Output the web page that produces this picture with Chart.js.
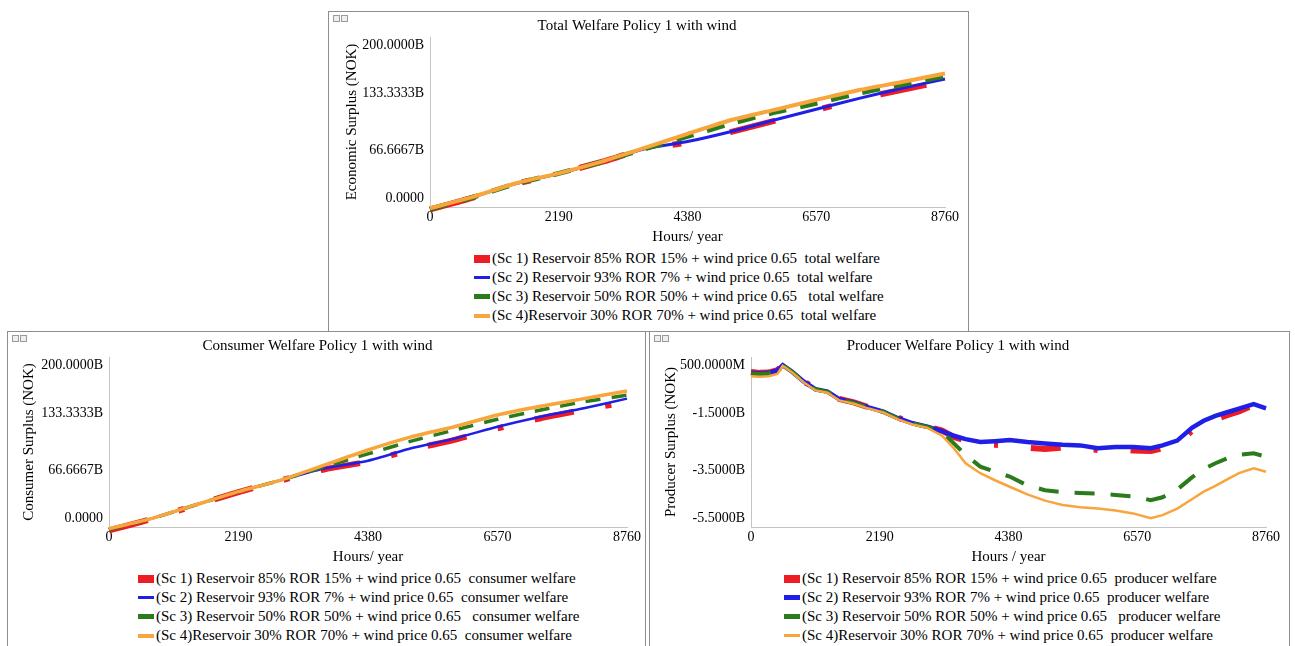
<!DOCTYPE html>
<html>
<head>
<meta charset="utf-8">
<script src="https://cdn.jsdelivr.net/npm/chart.js@4.4.1/dist/chart.umd.min.js"></script>
<style>
  body { margin: 0; background: #fff; width: 1295px; height: 646px; overflow: hidden; position: relative;
         font-family: "Liberation Serif", "Times New Roman", serif; color: #000; }
  .panel { position: absolute; border: 1px solid #8e8e8e; background: #fff; box-sizing: border-box; }
  .panel canvas { position: absolute; left: 0; top: 0; }
  .icon { position: absolute; top: 3px; width: 5px; height: 5px; border: 1px solid #9a9a9a; background: #eee; }
  .legend { position: absolute; top: 237px; font-size: 15px; line-height: 19px; white-space: pre; }
  .legend .row { height: 19px; display: flex; align-items: center; }
  .legend .key { width: 16px; margin-right: 2px; flex: none; }
</style>
</head>
<body>

<div class="panel" id="pTotal" style="left:328px; top:11px; width:641px; height:321px;">
  <span class="icon" style="left:4px"></span><span class="icon" style="left:12px"></span>
  <canvas id="cTotal"></canvas>
  <div class="legend" id="lTotal" style="left:145px"></div>
</div>

<div class="panel" id="pConsumer" style="left:7px; top:331px; width:639px; height:330px;">
  <span class="icon" style="left:4px"></span><span class="icon" style="left:12px"></span>
  <canvas id="cConsumer"></canvas>
  <div class="legend" id="lConsumer" style="left:130px"></div>
</div>

<div class="panel" id="pProducer" style="left:649px; top:331px; width:641px; height:330px;">
  <span class="icon" style="left:4px"></span><span class="icon" style="left:12px"></span>
  <canvas id="cProducer"></canvas>
  <div class="legend" id="lProducer" style="left:134px"></div>
</div>

<script>
// ---- data (billion NOK) ----
const scenarioNames = [
  "(Sc 1) Reservoir 85% ROR 15% + wind price 0.65  ",
  "(Sc 2) Reservoir 93% ROR 7% + wind price 0.65  ",
  "(Sc 3) Reservoir 50% ROR 50% + wind price 0.65   ",
  "(Sc 4)Reservoir 30% ROR 70% + wind price 0.65  "
];
const hourTicks = [0, 2190, 4380, 6570, 8760];

const hoursW = [0, 730, 1460, 2190, 2920, 3650, 4380, 5110, 5840, 6570, 7300, 8030, 8760];
const totalSc1 = [-3, 11, 27, 39.5, 53, 68, 76, 88, 101, 114, 127, 138, 148];
const totalSc2 = [-2, 12, 27.5, 39.5, 53, 68.5, 77, 88.6, 102, 115, 127.8, 139.6, 150.6];
const totalSc3 = [-2.5, 11.5, 27.5, 39.5, 53, 68.5, 83, 98, 111, 122, 134, 144, 154];
const totalSc4 = [-1.5, 12, 28, 39.6, 53.3, 69.5, 86, 102, 114, 126, 137.6, 147, 157];

const consumerSc1 = [-4, 9.5, 25.5, 41, 55, 68, 77, 91, 102.5, 116, 128, 138, 147];
const consumerSc2 = [-2.5, 10.2, 25.9, 41.6, 55.3, 69, 78, 92.6, 104, 118, 129.8, 139.6, 151];
const consumerSc3 = [-3, 10, 25.9, 41.6, 55.3, 71, 86, 101, 114, 126.7, 137.6, 147.4, 155];
const consumerSc4 = [-2, 10.2, 26, 41.6, 55.5, 73, 90.6, 106, 118, 131.8, 142, 151, 160];

const welfareTickValues = [0, 66.6667, 133.3333, 200];
const welfareTickLabels = ["0.0000", "66.6667B", "133.3333B", "200.0000B"];

const hoursP = [0, 150, 300, 450, 540, 700, 900, 1100, 1300, 1500, 1750, 2000, 2250, 2500, 2750, 3000,
  3250, 3450, 3650, 3900, 4150, 4400, 4700, 5000, 5300, 5600, 5900, 6200, 6500, 6800, 7000, 7250,
  7500, 7700, 7900, 8100, 8300, 8550, 8760];
const producerSc1 = [-0.03, -0.06, -0.05, 0.04, 0.21, -0.02, -0.36, -0.63, -0.72, -0.98, -1.10, -1.27,
  -1.42, -1.64, -1.84, -1.95, -2.10, -2.32, -2.45, -2.58, -2.60, -2.62, -2.70, -2.75, -2.70, -2.72,
  -2.78, -2.75, -2.80, -2.82, -2.72, -2.60, -2.10, -1.85, -1.70, -1.55, -1.42, -1.20, -1.32];
const producerSc2 = [-0.06, -0.08, -0.06, 0.03, 0.21, -0.02, -0.37, -0.64, -0.72, -0.99, -1.11, -1.28,
  -1.43, -1.66, -1.84, -1.96, -2.12, -2.28, -2.40, -2.50, -2.47, -2.43, -2.50, -2.55, -2.60, -2.62,
  -2.72, -2.68, -2.68, -2.72, -2.62, -2.45, -2.00, -1.75, -1.58, -1.45, -1.32, -1.16, -1.31];
const producerSc3 = [-0.08, -0.10, -0.08, 0.02, 0.21, -0.02, -0.38, -0.65, -0.73, -1.00, -1.12, -1.29,
  -1.44, -1.67, -1.85, -1.97, -2.15, -2.55, -2.95, -3.37, -3.55, -3.72, -4.03, -4.20, -4.27, -4.30,
  -4.32, -4.37, -4.42, -4.55, -4.45, -4.18, -3.75, -3.45, -3.25, -3.08, -2.95, -2.90, -3.02];
const producerSc4 = [-0.18, -0.20, -0.18, -0.10, 0.19, -0.05, -0.40, -0.68, -0.76, -1.03, -1.15, -1.32,
  -1.46, -1.70, -1.88, -2.00, -2.28, -2.72, -3.25, -3.60, -3.85, -4.08, -4.35, -4.57, -4.72, -4.80,
  -4.85, -4.92, -5.02, -5.19, -5.08, -4.85, -4.52, -4.25, -4.05, -3.82, -3.60, -3.43, -3.55];

const producerTickValues = [-5.5, -3.5, -1.5, 0.5];
const producerTickLabels = ["-5.5000B", "-3.5000B", "-1.5000B", "500.0000M"];

// ---- styling ----
const colors = ["#ee1c25", "#1f1fe6", "#2b7a1b", "#f8a53c"];
const serif = "'Liberation Serif', 'Times New Roman', serif";

function makePanel(opt) {
  const canvas = document.getElementById(opt.canvas);
  canvas.width = opt.width;
  canvas.height = 236;
  canvas.style.width = opt.width + "px";
  canvas.style.height = "236px";

  const datasets = opt.series.map((vals, i) => ({
    label: scenarioNames[i] + opt.suffix,
    data: opt.hours.map((h, k) => ({ x: h, y: vals[k] })),
    borderColor: colors[i],
    backgroundColor: colors[i],
    borderWidth: opt.widths[i],
    borderDash: opt.dashes[i],
    borderCapStyle: "butt",
    pointRadius: 0,
    tension: opt.tension,
    order: 4 - i,
    clip: 10
  }));

  new Chart(canvas, {
    type: "line",
    data: { datasets },
    options: {
      responsive: false,
      animation: false,
      events: [],
      layout: { padding: { left: 0, right: opt.padRight, top: 0, bottom: 0 } },
      plugins: {
        legend: { display: false },
        tooltip: { enabled: false },
        title: {
          display: true, text: opt.title, color: "#000",
          font: { family: serif, size: 15, weight: "normal" },
          padding: { top: 5, bottom: 2 }
        }
      },
      scales: {
        x: {
          type: "linear", min: 0, max: 8760,
          afterBuildTicks: s => { s.ticks = hourTicks.map(v => ({ value: v })); },
          afterFit: s => { s.height = 41; },
          ticks: { color: "#000", padding: 2, autoSkip: false, maxRotation: 0,
                   font: { family: serif, size: 14 }, callback: v => String(v) },
          grid: { display: false, drawTicks: false },
          border: { display: true, color: "#c4c4c4", width: 1 },
          title: { display: true, text: opt.xTitle, color: "#000",
                   font: { family: serif, size: 15 }, padding: { top: 4, bottom: 2 } }
        },
        y: {
          type: "linear", min: opt.yMin, max: opt.yMax,
          afterBuildTicks: s => { s.ticks = opt.yTicks.map(v => ({ value: v })); },
          afterFit: s => { s.width = opt.yWidth; },
          ticks: {
            color: "#000", padding: 6, autoSkip: false,
            font: { family: serif, size: 14 },
            // shift the end labels inside the axis, as the original does
            callback: (v, i, t) => {
              const lab = opt.yLabels[i];
              if (i === 0) return [lab, ""];
              if (i === t.length - 1) return ["", lab];
              return lab;
            }
          },
          grid: { display: false, drawTicks: false },
          border: { display: true, color: "#c4c4c4", width: 1 },
          title: { display: true, text: opt.yTitle, color: "#000",
                   font: { family: serif, size: 15 }, padding: { top: opt.yTitlePad, bottom: 0 } }
        }
      }
    }
  });

  // legend below the plot
  const leg = document.getElementById(opt.legend);
  datasets.forEach((d, i) => {
    const row = document.createElement("div");
    row.className = "row";
    const key = document.createElement("span");
    key.className = "key";
    key.style.height = opt.keyHeights[i] + "px";
    key.style.background = colors[i];
    const txt = document.createElement("span");
    txt.textContent = d.label;
    row.appendChild(key);
    row.appendChild(txt);
    leg.appendChild(row);
  });
}

makePanel({
  canvas: "cTotal", legend: "lTotal", width: 639, padRight: 23, yWidth: 101, yTitlePad: 14,
  title: "Total Welfare Policy 1 with wind", yTitle: "Economic Surplus (NOK)", xTitle: "Hours/ year",
  suffix: "total welfare",
  hours: hoursW, series: [totalSc1, totalSc2, totalSc3, totalSc4],
  yMin: 0, yMax: 200, yTicks: welfareTickValues, yLabels: welfareTickLabels,
  widths: [6, 3, 5, 4], dashes: [[47, 49, 9, 50], [], [18, 14], []],
  keyHeights: [8, 3, 5, 4], tension: 0.2
});

makePanel({
  canvas: "cConsumer", legend: "lConsumer", width: 637, padRight: 18, yWidth: 101, yTitlePad: 12,
  title: "Consumer Welfare Policy 1 with wind", yTitle: "Consumer Surplus (NOK)", xTitle: "Hours/ year",
  suffix: "consumer welfare",
  hours: hoursW, series: [consumerSc1, consumerSc2, consumerSc3, consumerSc4],
  yMin: 0, yMax: 200, yTicks: welfareTickValues, yLabels: welfareTickLabels,
  widths: [6, 2.5, 3.5, 3.5], dashes: [[40, 32, 6, 32], [], [15, 11], []],
  keyHeights: [8, 3, 5, 4], tension: 0.2
});

makePanel({
  canvas: "cProducer", legend: "lProducer", width: 639, padRight: 23, yWidth: 101, yTitlePad: 12,
  title: "Producer Welfare Policy 1 with wind", yTitle: "Producer Surplus (NOK)", xTitle: "Hours / year",
  suffix: "producer welfare",
  hours: hoursP, series: [producerSc1, producerSc2, producerSc3, producerSc4],
  yMin: -5.5, yMax: 0.5, yTicks: producerTickValues, yLabels: producerTickLabels,
  widths: [6, 4.5, 4, 2.5], dashes: [[30, 33, 4, 33], [], [20, 16], []],
  keyHeights: [8, 5, 5, 3], tension: 0
});
</script>
</body>
</html>
